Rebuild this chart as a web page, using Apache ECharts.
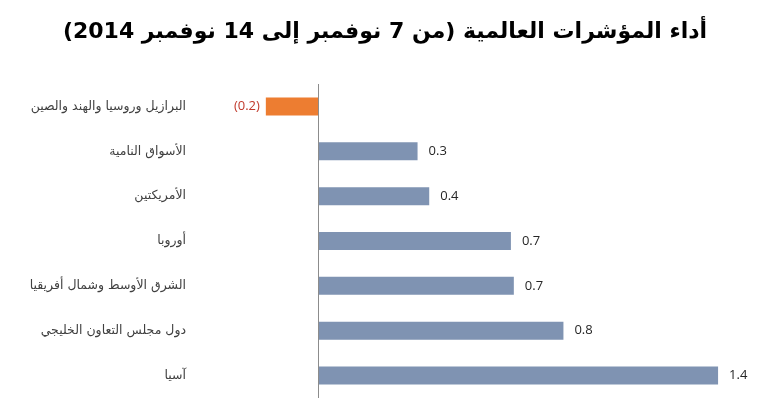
<!DOCTYPE html>
<html>
<head>
<meta charset="utf-8">
<script src="https://cdn.jsdelivr.net/npm/echarts@6/dist/echarts.min.js"></script>
<style>
  html, body { margin: 0; padding: 0; background: #fff; }
  #chart { width: 770px; height: 412px; }
</style>
</head>
<body>
<div id="chart"></div>
<script type="text/javascript">
    // المؤشرات من الأعلى إلى الأسفل
    var categories = ['البرازيل وروسيا والهند والصين', 'الأسواق النامية', 'الأمريكتين', 'أوروبا', 'الشرق الأوسط وشمال أفريقيا', 'دول مجلس التعاون الخليجي', 'آسيا'];
    // القيم (%) مقدرة من طول الأعمدة، التسميات بخانة عشرية واحدة
    var values = [-0.18, 0.34, 0.38, 0.66, 0.67, 0.84, 1.37];

    var chart = echarts.init(document.getElementById('chart'));

    var barData = values.map(function (v) {
        var neg = v < 0;
        return {
            value: v,
            itemStyle: { color: neg ? '#ed7d31' : '#7f93b2' },
            label: {
                position: neg ? 'left' : 'right',
                distance: neg ? 6 : 11,
                color: neg ? '#c0392b' : '#262626'
            }
        };
    });

    var option = {
        animation: false,
        title: {
            text: 'أداء المؤشرات العالمية (من 7 نوفمبر إلى 14 نوفمبر 2014)',
            left: 'center',
            top: 16,
            textStyle: {
                fontFamily: 'DejaVu Sans',
                fontSize: 22,
                fontWeight: 'bold',
                color: '#000'
            }
        },
        grid: {
            left: 260,
            right: 14,
            top: 84,
            bottom: 14
        },
        xAxis: {
            type: 'value',
            min: -0.2,
            max: 1.5,
            show: false
        },
        yAxis: {
            type: 'category',
            inverse: true,
            data: categories,
            axisLine: { show: false },
            axisTick: { show: false },
            axisLabel: {
                margin: 74,
                fontSize: 12.5,
                color: '#404040',
                fontFamily: 'DejaVu Sans'
            }
        },
        series: [
            {
                type: 'bar',
                barWidth: 18,
                data: barData,
                label: {
                    show: true,
                    fontSize: 13,
                    fontFamily: 'Open Sans',
                    formatter: function (p) {
                        var s = Math.abs(p.value).toFixed(1);
                        return p.value < 0 ? '(' + s + ')' : s;
                    }
                },
                markLine: {
                    silent: true,
                    symbol: 'none',
                    label: { show: false },
                    lineStyle: { color: '#8c8c8c', width: 1, type: 'solid' },
                    data: [{ xAxis: 0 }]
                }
            }
        ]
    };
    chart.setOption(option);
</script>
</body>
</html>
